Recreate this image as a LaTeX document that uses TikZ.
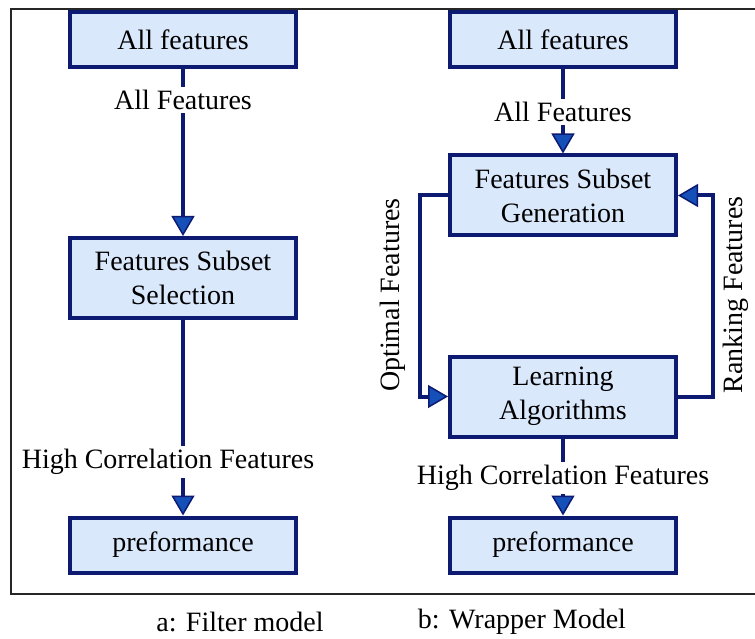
\documentclass[tikz,border=0pt]{standalone}
\usepackage{fontspec}
\setmainfont{Liberation Serif}
\usetikzlibrary{arrows.meta}

\definecolor{navy}{HTML}{0D1A72}
\definecolor{boxfill}{HTML}{DAE8FC}
\definecolor{tipblue}{HTML}{1450B8}

\tikzset{
  stage/.style={draw=navy, line width=4pt, fill=boxfill, align=center,
    minimum width=226pt, inner sep=2pt},
  flow/.style={draw=navy, line width=4pt,
    -{Triangle[length=20pt, width=23pt, fill=tipblue, line width=1.5pt]}},
  tag/.style={fill=white, inner sep=3pt}
}

\begin{document}
\begin{tikzpicture}[x=1pt, y=-1pt, font=\fontsize{28}{34}\selectfont]
    \clip (0, 0) rectangle (755, 639);
    \draw [line width=2pt, black!85] (11, 9) rectangle (780, 594);

    % filter model
    \node [stage, minimum height=55pt] (fall) at (183, 40) {All features};
    \node [stage, minimum height=80pt] (fsel) at (183, 278) {Features Subset\\Selection};
    \node [stage, minimum height=55pt] (fperf) at (183, 545) {preformance};
    \draw [flow] (fall) -- (fsel);
    \draw [flow] (fsel) -- (fperf);
    \node [tag] (fallt) at (183, 100) {All Features};
    \node [tag] (fhigh) at (168, 462) {High Correlation Features};

    % wrapper model
    \node [stage, minimum height=55pt] (wall) at (563, 40) {All features};
    \node [stage, minimum height=80pt] (wgen) at (563, 195.5) {Features Subset\\Generation};
    \node [stage, minimum height=80pt] (wlearn) at (563, 396.5) {Learning\\Algorithms};
    \node [stage, minimum height=55pt] (wperf) at (563, 545) {preformance};
    \draw [flow] (wall) -- (wgen);
    \draw [flow] (wlearn) -- (wperf);
    \node [tag] (wallt) at (563, 112) {All Features};
    \node [tag] (whigh) at (563, 478) {High Correlation Features};
    \draw [flow] (wgen.west) -- ++(-28, 0) |- (wlearn.west);
    \draw [flow] (wlearn.east) -- ++(35, 0) |- (wgen.east);
    \node [rotate=90] (wopt) at (393, 295) {Optimal Features};
    \node [rotate=90] (wrank) at (736, 295) {Ranking Features};

    \node (capa) at (240, 622) {a: Filter model};
    \node (capb) at (522, 622) {b: Wrapper Model};
\end{tikzpicture}
\end{document}
